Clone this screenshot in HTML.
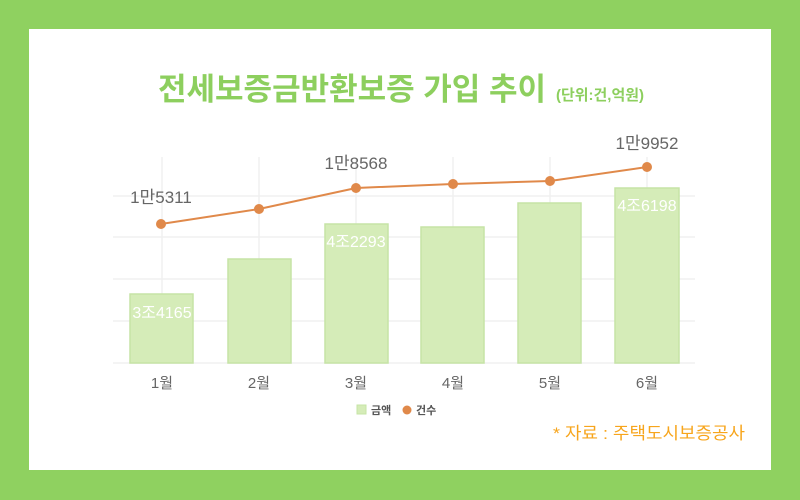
<!DOCTYPE html>
<html><head><meta charset="utf-8"><style>
body{margin:0;width:800px;height:500px;background:#8fd160;overflow:hidden;font-family:"Liberation Sans","Noto Sans CJK KR",sans-serif}
</style></head><body>
<svg width="800" height="500" xmlns="http://www.w3.org/2000/svg" style="position:absolute;left:0;top:0">
<rect x="0" y="0" width="800" height="500" fill="#8fd160"/>
<rect x="29" y="29" width="742" height="441" fill="#fff"/>
<text x="158" y="100" font-size="31" font-weight="bold" fill="#8dcf5e" font-family="Liberation Sans,Noto Sans CJK KR,sans-serif" textLength="388" lengthAdjust="spacingAndGlyphs">전세보증금반환보증 가입 추이</text>
<text x="556" y="100" font-size="15" font-weight="bold" fill="#8dcf5e" font-family="Liberation Sans,Noto Sans CJK KR,sans-serif" textLength="88" lengthAdjust="spacingAndGlyphs">(단위:건,억원)</text>
<g stroke="#f0f0f0" stroke-width="1.5">
<line x1="113" y1="196" x2="695" y2="196"/><line x1="113" y1="237" x2="695" y2="237"/>
<line x1="113" y1="279" x2="695" y2="279"/><line x1="113" y1="321" x2="695" y2="321"/>
<line x1="113" y1="363" x2="695" y2="363"/>
<line x1="162" y1="157" x2="162" y2="363"/><line x1="259" y1="157" x2="259" y2="363"/>
<line x1="356" y1="157" x2="356" y2="363"/><line x1="453" y1="157" x2="453" y2="363"/>
<line x1="550" y1="157" x2="550" y2="363"/><line x1="647" y1="157" x2="647" y2="363"/>
</g>
<g fill="#d5ecb8" stroke="#c6e4a6" stroke-width="1.5">
<rect x="130" y="294" width="63" height="69"/><rect x="228" y="259" width="63" height="104"/>
<rect x="325" y="224" width="63" height="139"/><rect x="421" y="227" width="63" height="136"/>
<rect x="518" y="203" width="63" height="160"/><rect x="615" y="188" width="64" height="175"/>
</g>
<g fill="#fff" font-size="16" text-anchor="middle">
<text x="162" y="318">3조4165</text><text x="356" y="247">4조2293</text><text x="647" y="211">4조6198</text>
</g>
<polyline points="161,224 259,209 356,188 453,184 550,181 647,167" fill="none" stroke="#e0894a" stroke-width="2"/>
<g fill="#e0894a">
<circle cx="161" cy="224" r="5"/><circle cx="259" cy="209" r="5"/><circle cx="356" cy="188" r="5"/>
<circle cx="453" cy="184" r="5"/><circle cx="550" cy="181" r="5"/><circle cx="647" cy="167" r="5"/>
</g>
<g fill="#666" font-size="17" text-anchor="middle">
<text x="161" y="203">1만5311</text><text x="356" y="169">1만8568</text><text x="647" y="149">1만9952</text>
</g>
<g fill="#666" font-size="15" text-anchor="middle">
<text x="162" y="388">1월</text><text x="259" y="388">2월</text><text x="356" y="388">3월</text>
<text x="453" y="388">4월</text><text x="550" y="388">5월</text><text x="647" y="388">6월</text>
</g>
<rect x="357" y="405" width="9" height="9" fill="#d5ecb8" stroke="#c6e4a6"/>
<text x="371" y="414" font-size="11" fill="#555" font-weight="bold">금액</text>
<circle cx="407" cy="410" r="4.5" fill="#e0894a"/>
<text x="416" y="414" font-size="11" fill="#555" font-weight="bold">건수</text>
<text x="553" y="439" font-size="17" fill="#f7a51c" textLength="192" lengthAdjust="spacingAndGlyphs">* 자료 : 주택도시보증공사</text>
</svg>
</body></html>
